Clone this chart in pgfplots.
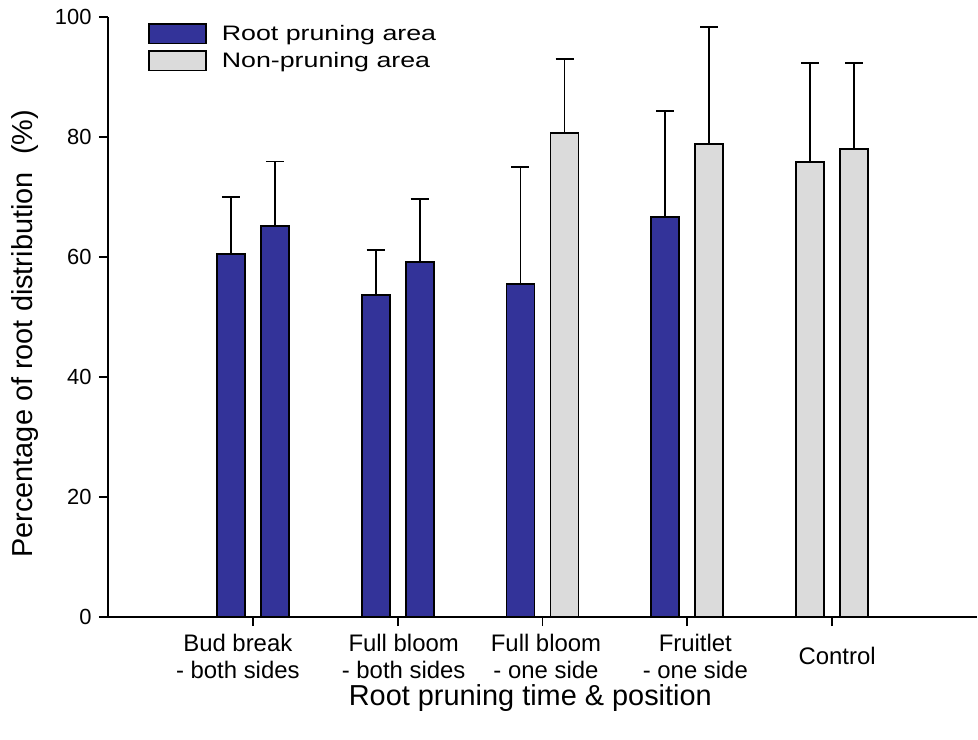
\documentclass[border=0pt]{standalone}
\usepackage{fontspec}
\setmainfont{Liberation Sans}
\newfontfamily\legfont{Liberation Sans}[FakeStretch=1.28]
\usepackage{pgfplots}
\usepackage{pgfplotstable}
\pgfplotsset{compat=1.18}
\definecolor{rootblue}{RGB}{51,51,153}
\definecolor{nongrey}{RGB}{219,219,219}

\pgfplotstableread{
x y e
0.848 60.5 9.5
1.152 65.2 10.7
1.848 53.7 7.5
2.152 59.1 10.5
2.848 55.5 19.5
3.848 66.7 17.6
}\bluedata
\pgfplotstableread{
x y e
3.152 80.7 12.3
4.152 78.8 19.5
4.848 75.8 16.5
5.152 78.0 14.3
}\greydata

\newcommand{\tl}[2]{\hspace*{#1}\begin{tabular}{@{}c@{}}#2\end{tabular}}

\begin{document}
\begin{tikzpicture}
\useasboundingbox (-108bp,-123bp) rectangle (870bp,617bp);
\begin{axis}[
  scale only axis, width=869bp, height=600bp,
  xmin=0, xmax=6, ymin=0, ymax=100,
  axis x line*=bottom, axis y line*=left,
  axis line style={-, line width=1.8bp, black},
  xtick={1,2,3,4,5},
  xticklabels={{\tl{-30bp}{Bud break\\- both sides}},{\tl{12bp}{Full bloom\\- both sides}},{\tl{7bp}{Full bloom\\- one side}},{\tl{16bp}{Fruitlet\\- one side}},{\tl{10bp}{Control}}},
  ytick={0,20,40,60,80,100},
  tick align=outside, major tick length=9bp,
  every tick/.style={black, line width=1.8bp},
  /pgf/number format/assume math mode=true,
  yticklabel style={font=\fontsize{22}{26}\selectfont, xshift=-4bp},
  xticklabel style={font=\fontsize{24}{27.5}\selectfont, anchor=center, yshift=-33.5bp},
  every axis y label/.style={at={(axis description cs:-0.095,0.472)}, rotate=90, anchor=center, font=\fontsize{29}{33}\selectfont},
  every axis x label/.style={at={(axis description cs:0.486,-0.135)}, anchor=center, font=\fontsize{29}{33}\selectfont},
  ylabel={Percentage of root distribution\hspace{0.6em}(\%)},
  xlabel={Root pruning time \& position},
  legend style={at={(axis description cs:0.046,0.99)}, anchor=north west, draw=none, fill=none,
    inner sep=0pt, outer sep=0pt, row sep=5.6bp, font=\legfont\fontsize{21}{24}\selectfont,
    nodes={inner sep=0pt}},
  legend cell align=left,
  clip=false,
]
\addplot[ybar, bar width=0.193, bar shift=0pt, fill=rootblue, draw=black, line width=1.8bp,
  legend image code/.code={\draw[fill=rootblue, draw=black, line width=1.8bp] (0bp,-10.3bp) rectangle (57bp,9.3bp); \path (72bp,0bp);},
  error bars/.cd, y dir=plus, y explicit, error mark=|,
  error bar style={line width=1.8bp, black},
  error mark options={line width=1.8bp, black, mark size=9bp}]
  table[x=x, y=y, y error=e]{\bluedata};
\addlegendentry{Root pruning area}
\addplot[ybar, bar width=0.193, bar shift=0pt, fill=nongrey, draw=black, line width=1.8bp,
  legend image code/.code={\draw[fill=nongrey, draw=black, line width=1.8bp] (0bp,-10.3bp) rectangle (57bp,9.3bp); \path (72bp,0bp);},
  error bars/.cd, y dir=plus, y explicit, error mark=|,
  error bar style={line width=1.8bp, black},
  error mark options={line width=1.8bp, black, mark size=9bp}]
  table[x=x, y=y, y error=e]{\greydata};
\addlegendentry{Non-pruning area}
\end{axis}
\end{tikzpicture}
\end{document}
